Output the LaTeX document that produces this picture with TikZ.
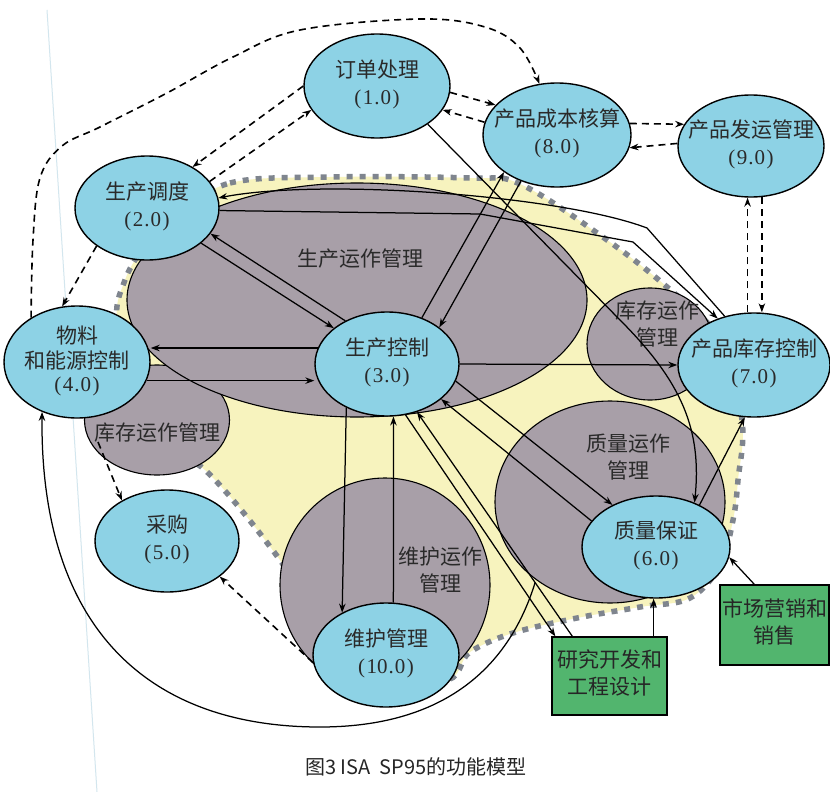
\documentclass[tikz,border=0pt]{standalone}
\usepackage{fontspec}
\setmainfont{Liberation Serif}
\newfontfamily\cjk{Noto Sans CJK SC}
\usetikzlibrary{arrows.meta,calc,shapes.geometric}
\definecolor{nodeblue}{HTML}{8DD2E5}
\definecolor{opgray}{HTML}{A89FA8}
\definecolor{zoneyellow}{HTML}{F7F3BE}
\definecolor{boxgreen}{HTML}{52B56E}
\definecolor{dotgray}{HTML}{7F858E}
\definecolor{inkc}{HTML}{2A2A2A}
\definecolor{faintline}{HTML}{D3E6EE}
\newcommand\nn[2]{(\kern1.5pt#1\kern1pt.\kern1pt#2\kern1.5pt)}
\newcommand\twol[2]{\makebox[0pt]{\begin{tabular}{@{}c@{}}#1\\#2\end{tabular}}}
\newcommand\threel[3]{\makebox[0pt]{\begin{tabular}{@{}c@{}}#1\\#2\\#3\end{tabular}}}
\begin{document}
\begin{tikzpicture}[x=1pt,y=-1pt,
  fn/.style={ellipse, draw=black, line width=1.4pt, fill=nodeblue, inner sep=0pt, text=inkc, font=\fontsize{21}{27}\selectfont},
  opzone/.style={ellipse, draw=black, line width=1.1pt, fill=opgray, inner sep=0pt},
  optext/.style={text=inkc, font=\cjk\fontsize{21}{27}\selectfont, align=center, inner sep=0pt},
  extbox/.style={rectangle, draw=black, line width=1.2pt, fill=boxgreen, inner sep=0pt, text=black!85, font=\cjk\fontsize{21}{27}\selectfont},
  flow/.style={line width=1.25pt, -{Stealth[length=9pt,width=6.5pt]}},
  dflow/.style={flow, line width=1.6pt, dash pattern=on 7pt off 5pt},
]
\useasboundingbox (0,0) rectangle (830,792);
\fill[white] (0,0) rectangle (830,792);
\draw[faintline, line width=1pt] (47,10) -- (97,792);

% functional zone (yellow with dotted border)
\path[fill=zoneyellow, draw=dotgray, line width=5.5pt, dash pattern=on 6pt off 7pt]
  plot[smooth cycle, tension=0.6] coordinates {
   (180,215) (230,183) (330,177) (470,178) (520,184) (600,235) (667,287)
   (720,340) (742,420) (738,480) (733,520) (720,565) (690,598) (640,607)
   (577,618) (513,633) (470,652) (440,680) (330,640) (280,560) (205,470)
   (150,440) (118,330) (125,280) (150,240)};

% operations management zones
\node[opzone, minimum width=145pt, minimum height=110pt] (gL) at (157,420) {};
\node[opzone, minimum width=460pt, minimum height=234pt] (gA) at (357,300) {};
\node[opzone, minimum width=126pt, minimum height=112pt] (gR) at (650,344) {};
\node[opzone, minimum width=230pt, minimum height=202pt] (gQ) at (610,502) {};
\node[opzone, minimum width=210pt, minimum height=214pt] (gM) at (385,585) {};

\node[optext] (tA) at (360,259) {生产运作管理};
\node[optext] (tR) at (657,324) {库存运作\\管理};
\node[optext] (tL) at (157,433) {库存运作管理};
\node[optext] (tQ) at (628,457) {质量运作\\管理};
\node[optext] (tM) at (440,570) {维护运作\\管理};

% functions
\node[fn, minimum width=146pt, minimum height=104pt] (n1) at (377,86) {\twol{\cjk 订单处理}{\nn10}};
\node[fn, minimum width=144pt, minimum height=104pt] (n2) at (147,208) {\twol{\cjk 生产调度}{\nn20}};
\node[fn, minimum width=144pt, minimum height=104pt] (n3) at (387,364) {\twol{\cjk 生产控制}{\nn30}};
\node[fn, minimum width=146pt, minimum height=112pt, font=\fontsize{21}{23}\selectfont] (n4) at (77,362) {\threel{\cjk 物料}{\cjk 和能源控制}{\nn40}};
\node[fn, minimum width=144pt, minimum height=102pt] (n5) at (167,541) {\twol{\cjk 采购}{\nn50}};
\node[fn, minimum width=148pt, minimum height=102pt] (n6) at (656,547) {\twol{\cjk 质量保证}{\nn60}};
\node[fn, minimum width=152pt, minimum height=104pt] (n7) at (754,365) {\twol{\cjk 产品库存控制}{\nn70}};
\node[fn, minimum width=148pt, minimum height=104pt] (n8) at (557,135) {\twol{\cjk 产品成本核算}{\nn80}};
\node[fn, minimum width=146pt, minimum height=102pt] (n9) at (751,146) {\twol{\cjk 产品发运管理}{\nn90}};
\node[fn, minimum width=146pt, minimum height=104pt] (n10) at (386,655) {\twol{\cjk 维护管理}{\nn{10}{0}}};

% external boxes
\node[extbox, minimum width=115pt, minimum height=78pt] (rd) at (609.5,676) {\twol{研究开发和}{工程设计}};
\node[extbox, minimum width=109pt, minimum height=80pt] (mk) at (774.5,625) {\twol{市场营销和}{销售}};

% dashed connectors
\draw[dflow] (n1.180) -- (n2.42);
\draw[dflow] (n2.23) -- (n1.200);
\draw[dflow] (n2.-143) -- (n4.105);
\draw[dflow] plot[smooth, tension=0.6] coordinates {(n4.136) (33,240) (40,178) (62,146) (100,127) (167,93) (233,57) (300,30) (420,19) (485,27) (520,48) (n8.109)};
\draw[dflow] (n1.-5) -- (n8.154);
\draw[dflow] (n8.170) -- (n1.-20);
\draw[dflow] (n8.9) -- (n9.162);
\draw[dflow] (n9.178) -- (n8.-10);
\draw[dflow] (n7.97) -- (n7.97 |- n9.south);
\draw[dflow] (n9.-78) -- (n9.-78 |- n7.north);
\draw[dflow] (n10.186) -- (n5.-34);
\coordinate (gldash) at (98,442);
\draw[dflow] (gldash) -- (n5.138);

% solid connectors
\draw[flow] (n2.-33) -- (n3.146);
\draw[flow] (n3.134) -- (n2.-22);
\draw[flow] (n3.167) -- (n3.167 -| n4.east);
\draw[flow] (n4.-15) -- (n4.-15 -| n3.west);
\draw[flow] (n3.53) -- (n8.215);
\draw[flow] (n8.232) -- (n3.35);
\draw[flow] (n3.east) -- (n7.west);
\draw[flow] (n1.-37) -- (620,320) .. controls (682,382) and (702,430) .. (n6.49);
\draw[flow] (n2.-2) -- (480,214) -- (633,242) -- (n7.128);
\draw[flow] (n7.121) -- (647,228) .. controls (560,195) and (320,178) .. (n2.8);
\draw[flow] (n6.44) -- (n7.260);
\draw[flow] (n3.-14) -- (n6.136);
\draw[flow] (n6.158) -- (n3.-33);
\draw[flow] (n3.227) -- (n10.136);
\draw[flow] (n10.82) -- (n3.-83);
\draw[flow] (n3.-70) -- ([xshift=4pt]rd.north west);
\draw[flow] ([xshift=21pt]rd.north west) -- (n3.-58);
\coordinate (arcstart) at ($([xshift=21pt]rd.north west)!0.24!(n3.-58)$);
\draw[flow] (arcstart) .. controls (505,680) and (430,727) .. (320,727) .. controls (150,727) and (40,630) .. (n4.235);
\draw[flow] ([xshift=-14pt]rd.north east) -- ([xshift=-14pt]rd.north east |- n6.south);
\draw[flow] ([xshift=35pt]mk.north west) -- (n6.-8);

% caption
\node[font=\cjk\fontsize{20}{24}\selectfont, text=black!85, inner sep=0pt] (cap) at (416,767) {图3 ISA\ \ SP95的功能模型};
\end{tikzpicture}
\end{document}
